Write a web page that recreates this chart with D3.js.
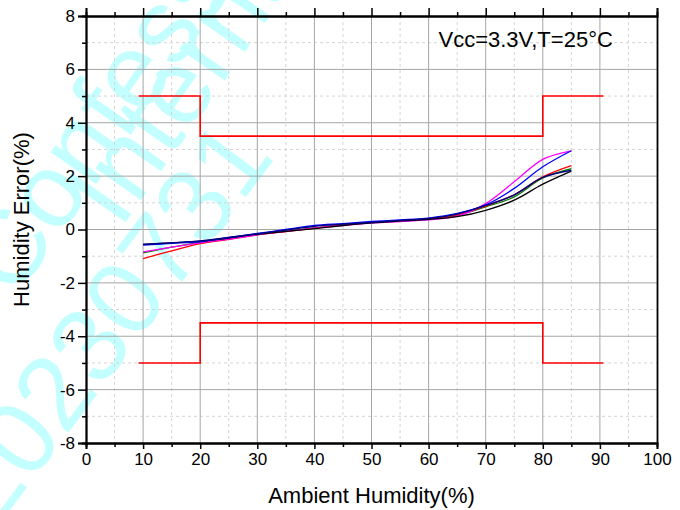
<!DOCTYPE html>
<html>
<head>
<meta charset="utf-8">
<script src="https://cdn.jsdelivr.net/npm/d3@7"></script>
<style>
  body { margin: 0; background: #fff; }
  text { font-family: "Liberation Sans Narrow", "Arial Narrow", "Liberation Sans", Arial, sans-serif; }
</style>
</head>
<body>
<svg id="chart" width="680" height="510"></svg>
<script>
// humidity points (%RH) where the error curves were sampled
const humidity = [10, 15, 20, 25, 30, 35, 40, 45, 50, 55, 60, 65, 70, 75, 80, 85];

const blackErr   = [-0.56, -0.50, -0.45, -0.32, -0.18, -0.07, 0.03, 0.15, 0.25, 0.32, 0.38, 0.48, 0.72, 1.10, 1.70, 2.19];
const navyErr    = [-0.56, -0.50, -0.43, -0.30, -0.16, -0.02, 0.12, 0.20, 0.27, 0.34, 0.42, 0.58, 0.90, 1.30, 1.95, 2.22];
const blueErr    = [-0.58, -0.52, -0.45, -0.30, -0.15, 0.00, 0.15, 0.22, 0.30, 0.36, 0.43, 0.60, 0.92, 1.54, 2.35, 2.95];
const redErr     = [-1.09, -0.80, -0.53, -0.37, -0.20, -0.08, 0.05, 0.17, 0.26, 0.33, 0.40, 0.55, 0.88, 1.30, 1.97, 2.39];
const greenErr   = [-0.88, -0.66, -0.48, -0.33, -0.18, -0.06, 0.06, 0.17, 0.26, 0.33, 0.40, 0.53, 0.85, 1.22, 1.93, 2.28];
const magentaErr = [-0.84, -0.66, -0.50, -0.36, -0.20, -0.07, 0.05, 0.15, 0.24, 0.30, 0.36, 0.50, 0.97, 1.79, 2.63, 2.95];

// tolerance band (red step lines)
const limitX     = [9.2, 20, 20, 80, 80, 90.6];
const limitUpper = [5, 5, 3.5, 3.5, 5, 5];
const limitLower = [-5, -5, -3.5, -3.5, -5, -5];

const xTicks = [0, 10, 20, 30, 40, 50, 60, 70, 80, 90, 100];
const yTicks = [-8, -6, -4, -2, 0, 2, 4, 6, 8];

const series = [
  {values: greenErr,   color: "#008000"},
  {values: redErr,     color: "#ff0000"},
  {values: magentaErr, color: "#ff00ff"},
  {values: blackErr,   color: "#000000"},
  {values: blueErr,    color: "#0000ff"},
  {values: navyErr,    color: "#000080"}
];

const margin = {top: 16, left: 86, right: 23, bottom: 67};
const width = 680 - margin.left - margin.right,
  height = 510 - margin.top - margin.bottom;

const svg = d3.select("#chart");

// faint watermark behind the chart
const wm = svg.append("g").attr("fill", "#c4ffff").attr("font-size", 105)
  .style("font-family", "'Liberation Sans', Arial, sans-serif");
wm.append("text").attr("transform", "translate(15,300) rotate(-55)").text("Confessi");
wm.append("text").attr("transform", "translate(120,230) rotate(-55)").text("Interna");
wm.append("text").attr("transform", "translate(-5,530) rotate(-53)").text("20230731");

const g = svg.append("g").attr("transform", "translate(" + margin.left + "," + margin.top + ")");

const x = d3.scaleLinear().domain([0, 100]).range([0, width]);
const y = d3.scaleLinear().domain([-8, 8]).range([height, 0]);

// minor grid (dashed)
g.append("g").selectAll("line")
  .data(d3.range(5, 100, 10))
  .enter().append("line")
    .attr("x1", d => x(d)).attr("x2", d => x(d))
    .attr("y1", 0).attr("y2", height)
    .attr("stroke", "#d4d4d4").attr("stroke-dasharray", "3,3");
g.append("g").selectAll("line")
  .data(d3.range(-7, 8, 2))
  .enter().append("line")
    .attr("x1", 0).attr("x2", width)
    .attr("y1", d => y(d)).attr("y2", d => y(d))
    .attr("stroke", "#d4d4d4").attr("stroke-dasharray", "3,3");

// major grid
g.append("g").selectAll("line")
  .data(xTicks.slice(1, -1))
  .enter().append("line")
    .attr("x1", d => x(d)).attr("x2", d => x(d))
    .attr("y1", 0).attr("y2", height)
    .attr("stroke", "#a6a6a6");
g.append("g").selectAll("line")
  .data(yTicks.slice(1, -1))
  .enter().append("line")
    .attr("x1", 0).attr("x2", width)
    .attr("y1", d => y(d)).attr("y2", d => y(d))
    .attr("stroke", "#a6a6a6");

// tolerance lines
const stepLine = d3.line().x((d, i) => x(limitX[i])).y(d => y(d));
[limitUpper, limitLower].forEach(lim => {
  g.append("path")
    .datum(lim)
    .attr("d", stepLine)
    .attr("fill", "none")
    .attr("stroke", "#ff0000")
    .attr("stroke-width", 1.6);
});

// error curves
const curve = d3.line()
  .x((d, i) => x(humidity[i]))
  .y(d => y(d))
  .curve(d3.curveCatmullRom.alpha(0.5));
series.forEach(s => {
  g.append("path")
    .datum(s.values)
    .attr("d", curve)
    .attr("fill", "none")
    .attr("stroke", s.color)
    .attr("stroke-width", 1.3);
});

// axes
function styleAxis(sel) {
  sel.select(".domain").attr("stroke", "#000").attr("stroke-width", 1.8);
  sel.selectAll(".tick line").attr("stroke", "#000").attr("stroke-width", 1.5);
  sel.selectAll("text").attr("font-size", 17).attr("fill", "#000")
    .style("font-family", "'Liberation Sans Narrow', 'Arial Narrow', 'Liberation Sans', sans-serif");
}
const plain = d => String(d);

g.append("g")
    .attr("transform", "translate(0," + height + ")")
    .call(d3.axisBottom(x).tickValues(d3.range(5, 100, 10)).tickSize(4).tickFormat(""))
    .call(styleAxis);
g.append("g")
    .attr("transform", "translate(0," + height + ")")
    .call(d3.axisBottom(x).tickValues(xTicks).tickSize(6).tickPadding(4).tickFormat(plain))
    .call(styleAxis);

g.append("g")
    .call(d3.axisTop(x).tickValues(d3.range(5, 100, 10)).tickSize(4).tickFormat(""))
    .call(styleAxis);
g.append("g")
    .call(d3.axisTop(x).tickValues(xTicks).tickSize(8).tickFormat(""))
    .call(styleAxis);

g.append("g")
    .call(d3.axisLeft(y).tickValues(d3.range(-7, 8, 2)).tickSize(4).tickFormat(""))
    .call(styleAxis);
g.append("g")
    .call(d3.axisLeft(y).tickValues(yTicks).tickSize(8).tickPadding(3).tickFormat(plain))
    .call(styleAxis);

g.append("g")
    .attr("transform", "translate(" + width + ",0)")
    .call(d3.axisRight(y).tickValues([]).tickSizeOuter(0))
    .call(styleAxis);

// labels
g.append("text")
  .attr("x", x(50)).attr("y", height + 60)
  .attr("text-anchor", "middle")
  .attr("font-size", 22)
  .text("Ambient Humidity(%)");

g.append("text")
  .attr("transform", "translate(" + (-57) + "," + (y(0) - 10) + ") rotate(-90)")
  .attr("text-anchor", "middle")
  .attr("font-size", 22)
  .text("Humidity Error(%)");

g.append("text")
  .attr("x", x(77)).attr("y", y(6.85))
  .attr("text-anchor", "middle")
  .attr("font-size", 22)
  .text("Vcc=3.3V,T=25°C");
</script>
</body>
</html>
